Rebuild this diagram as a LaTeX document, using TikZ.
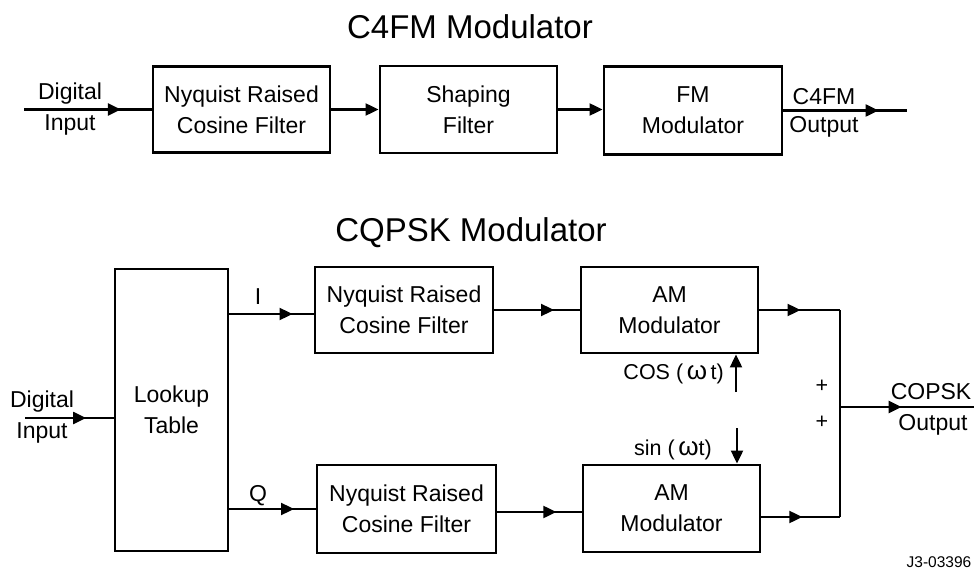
\documentclass[tikz,border=0pt]{standalone}
\usepackage{fontspec}
\setmainfont{Liberation Sans}
\usetikzlibrary{arrows.meta,decorations.markings}
\begin{document}
\begin{tikzpicture}[x=1pt,y=-1pt,
  box/.style={draw,line width=2.9pt,inner sep=0pt,align=center,font=\fontsize{23}{31}\selectfont},
  lbl/.style={inner sep=0pt,anchor=base,font=\fontsize{23}{27}\selectfont},
  sml/.style={inner sep=0pt,font=\fontsize{21.5}{24}\selectfont},
  ttl/.style={inner sep=0pt,anchor=base,font=\fontsize{33}{40}\selectfont},
  wire/.style={line width=2.2pt},
  tip/.style={-{Triangle[length=13pt,width=12pt]}},
  midarr/.style={postaction={decorate},decoration={markings,mark=at position #1 with {\arrow{Triangle[length=13pt,width=12pt]}}}},
]
\useasboundingbox (0,0) rectangle (974,577);

% ---------- C4FM ----------
\node[ttl] (t1) at (470,39) {C4FM Modulator};
\node[box,minimum width=177pt,minimum height=86pt] (n1) at (241.5,109.5) {Nyquist Raised\\Cosine Filter};
\node[box,minimum width=177pt,minimum height=87pt] (n2) at (468.5,109.5) {Shaping\\Filter};
\node[box,minimum width=178pt,minimum height=88pt] (n3) at (693,110.5) {FM\\Modulator};

\coordinate (tin) at (24,109.5);
\coordinate (tout) at (907,110.5);
\draw[wire,midarr=0.76] (tin) -- (n1.west);
\draw[wire,tip] (n1.east) -- (n2.west);
\draw[wire,tip] (n2.east |- n1.east) -- (n3.west |- n1.east);
\draw[wire,midarr=0.77] (n3.east) -- (tout);

\node[lbl] (tdig) at (70,100) {Digital};
\node[lbl] (tinp) at (70,131) {Input};
\node[lbl] (tc4) at (824,105) {C4FM};
\node[lbl] (tout1) at (824,133) {Output};

% ---------- CQPSK ----------
\node[ttl] (t2) at (471,242) {CQPSK Modulator};
\node[box,minimum width=113pt,minimum height=282pt] (lut) at (171.5,410) {Lookup\\Table};
\node[box,minimum width=178pt,minimum height=86pt] (u1) at (404,310) {Nyquist Raised\\Cosine Filter};
\node[box,minimum width=179pt,minimum height=88pt] (l1) at (406.5,509) {Nyquist Raised\\Cosine Filter};
\node[box,minimum width=177pt,minimum height=86pt] (u2) at (669.5,310) {AM\\Modulator};
\node[box,minimum width=177pt,minimum height=87pt] (l2) at (671.5,508.5) {AM\\Modulator};

% input
\coordinate (din) at (25,418);
\draw[wire,midarr=0.69] (din) -- (din -| lut.west);
\node[lbl] (bdig) at (42,407) {Digital};
\node[lbl] (binp) at (42,438) {Input};

% I and Q
\coordinate (iy) at (0,314);
\draw[wire,midarr=0.75] (lut.east |- iy) -- (u1.west |- iy);
\draw[wire,midarr=0.75] (lut.east |- l1.west) -- (l1.west);
\node[lbl] (li) at (258,305) {I};
\node[lbl] (lq) at (258,501) {Q};

% filters to AM
\draw[wire,midarr=0.70] (u1.east) -- (u2.west);
\draw[wire,midarr=0.70] (l1.east |- 0,512) -- (l2.west |- 0,512);

% summing junction
\coordinate (ju) at (840,310);
\coordinate (jl) at (840,517);
\coordinate (jm) at (840,407);
\coordinate (cout) at (974,407);
\draw[wire,midarr=0.51] (u2.east) -- (ju);
\draw[wire,midarr=0.52] (l2.east |- jl) -- (jl);
\draw[wire] (ju) -- (jl);
\draw[wire,midarr=0.46] (jm) -- (cout);
\node[sml] (p1) at (822,386) {+};
\node[sml] (p2) at (822,422) {+};
\node[lbl] (lcq) at (931,399) {COPSK};
\node[lbl] (lout) at (933,430) {Output};

% carriers
\coordinate (cs) at (736,392);
\coordinate (ss) at (737,428);
\draw[wire,tip] (cs) -- (cs |- u2.south);
\draw[wire,tip] (ss) -- (ss |- l2.north);
\node[sml,anchor=base east] (lcos) at (724,379) {COS (\,{\fontsize{26}{26}\selectfont ω}\,t)};
\node[sml,anchor=base] (lsin) at (673,455) {sin (\,{\fontsize{26}{26}\selectfont ω}t)};

\node[inner sep=0pt,anchor=base,font=\fontsize{15.5}{18}\selectfont] (ref) at (939,567) {J3-03396};
\end{tikzpicture}
\end{document}
